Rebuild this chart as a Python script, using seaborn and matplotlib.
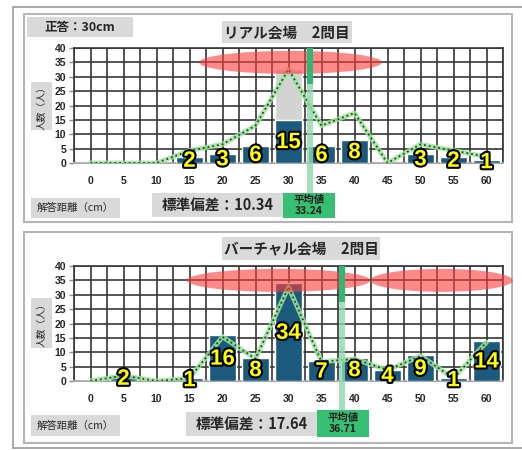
import numpy as np
import matplotlib.pyplot as plt
import matplotlib.patheffects as pe
from matplotlib.patches import Rectangle, Ellipse
import seaborn as sns

sns.set_theme(style="white")
plt.rcParams['font.family'] = ['Noto Sans CJK JP', 'DejaVu Sans']

# data
distance = ['0', '5', '10', '15', '20', '25', '30', '35', '40', '45', '50', '55', '60']
real_counts = [0, 0, 0, 2, 3, 6, 15, 6, 8, 0, 3, 2, 1]
real_pct = [0, 0, 0, 4.3, 6.5, 13.0, 32.6, 13.0, 17.4, 0, 6.5, 4.3, 2.2]
virtual_counts = [0, 2, 0, 1, 16, 8, 34, 7, 8, 4, 9, 1, 14]
virtual_pct = [0, 1.9, 0, 1.0, 15.4, 7.7, 32.7, 6.7, 7.7, 3.8, 8.7, 1.0, 13.5]
titles = ['リアル会場　2問目', 'バーチャル会場　2問目']
std_values = ['10.34', '17.64']
mean_values = ['33.24', '36.71']
mean_marker_cm = [33.2, 38.1]      # where the mean marker sits in the picture
highlight_30 = [32.6, 32.7]        # grey column behind the 30cm bar
# (centre cm, width cm) of the red ellipses
ellipses = [[(30.3, 27.7)], [(28.5, 27.8), (53.2, 21.6)]]

W, H = 522, 450
fig = plt.figure(figsize=(W / 100, H / 100), dpi=100)
fig.patch.set_facecolor('white')
num_font = ['Liberation Sans', 'DejaVu Sans']


def fbox(x0, y0, x1, y1, fc, ec='none', lw=0, z=2):
    fig.add_artist(Rectangle((x0 / W, 1 - y1 / H), (x1 - x0) / W, (y1 - y0) / H,
                             transform=fig.transFigure, facecolor=fc, edgecolor=ec,
                             linewidth=lw, zorder=z))


def ftext(x, y, s, **kw):
    fig.text(x / W, 1 - y / H, s, ha='center', va='center', zorder=3, **kw)


# frames
fbox(13, 7, 530, 448, 'white', '#9a9a9a', 1.2, z=-3)
fbox(24, 14, 512, 222, 'white', '#b5b5b5', 1.5, z=-2)
fbox(24, 232, 512, 443, 'white', '#b5b5b5', 1.5, z=-2)

panels = [
    dict(counts=real_counts, pct=real_pct, top=48, title_box=(222, 21, 352, 43),
         xlab_box=(31, 198, 120, 218), std_box=(152, 193, 283, 217),
         mean_box=(283, 193, 335, 218), ylab_box=(31, 82, 52, 130)),
    dict(counts=virtual_counts, pct=virtual_pct, top=266, title_box=(222, 237, 380, 260),
         xlab_box=(31, 415, 120, 436), std_box=(186, 412, 317, 436),
         mean_box=(317, 410, 369, 437), ylab_box=(31, 298, 52, 348)),
]

gray = '#d9d9d9'
grid_c = '#363636'
for k, p in enumerate(panels):
    ax = fig.add_axes([74 / W, 1 - (p['top'] + 115) / H, 429 / W, 115 / H])
    ax.set_facecolor('white')
    idx = np.arange(len(distance))

    # grid: every half category across, every 5 people up
    ax.vlines(np.arange(-0.5, 12.6, 0.5), 0, 40, color=grid_c, linewidth=1.2, zorder=1)
    ax.hlines(np.arange(5, 41, 5), -0.5, 12.5, color=grid_c, linewidth=1.2, zorder=1)

    hl = [0] * len(distance)
    hl[6] = highlight_30[k]
    sns.barplot(x=distance, y=hl, order=distance, color='#d3d3d3', width=0.84,
                saturation=1, ax=ax, zorder=2)
    sns.barplot(x=distance, y=p['counts'], order=distance, color='#1b5a7c', width=0.84,
                saturation=1, ax=ax, zorder=3)

    sns.lineplot(x=idx, y=p['pct'], color='#9ee39e', linewidth=3.5, alpha=0.85, ax=ax, zorder=4)
    sns.lineplot(x=idx, y=p['pct'], color='#1e4d1e', linewidth=1.3, linestyle=':', ax=ax, zorder=5)

    for c, w in ellipses[k]:
        ax.add_patch(Ellipse((c / 5, 35), w / 5, 8, facecolor='#ff3b3b', alpha=0.6,
                             edgecolor='none', zorder=6, clip_on=False))

    m = mean_marker_cm[k] / 5
    ax.plot([m, m], [-10.3, 27.5], color='#8fd9ad', linewidth=4.3, alpha=0.8,
            solid_capstyle='butt', clip_on=False, zorder=6)
    ax.plot([m, m], [27.5, 40], color='#2eb872', linewidth=4.3,
            solid_capstyle='butt', zorder=7)

    for i, v in enumerate(p['counts']):
        if v > 0:
            ax.text(i, v / 2 - 0.4, str(v), ha='center', va='center', fontsize=16,
                    fontweight='bold', color='#ffff00', zorder=8, clip_on=False,
                    family=num_font,
                    path_effects=[pe.withStroke(linewidth=3, foreground='black')])

    ax.set_xlim(-0.5, 12.5)
    ax.set_ylim(0, 40)
    ax.set_xticks(idx)
    ax.set_xticklabels(distance, fontsize=7.5, fontweight='bold', family=num_font)
    ax.set_yticks(range(0, 41, 5))
    ax.set_yticklabels([str(v) for v in range(0, 41, 5)], fontsize=7.5, fontweight='bold',
                       family=num_font)
    ax.tick_params(axis='x', length=0, pad=9)
    ax.tick_params(axis='y', length=3.5, width=1, color='#8a8a8a', pad=2, left=True)
    ax.grid(False)
    ax.set_xlabel('')
    ax.set_ylabel('')
    for s in ['top', 'left', 'right']:
        ax.spines[s].set_color(grid_c)
        ax.spines[s].set_linewidth(1.2)
    ax.spines['bottom'].set_color('#a8a8a8')
    ax.spines['bottom'].set_linewidth(1.5)

    # boxes and labels
    x0, y0, x1, y1 = p['title_box']
    fbox(x0, y0, x1, y1, gray)
    ftext((x0 + x1) / 2, (y0 + y1) / 2, titles[k], fontsize=10.5, fontweight='bold')

    x0, y0, x1, y1 = p['xlab_box']
    fbox(x0, y0, x1, y1, gray)
    ftext((x0 + x1) / 2, (y0 + y1) / 2, '解答距離（cm）', fontsize=7.5)

    x0, y0, x1, y1 = p['std_box']
    fbox(x0, y0, x1, y1, gray)
    ftext((x0 + x1) / 2, (y0 + y1) / 2, '標準偏差：' + std_values[k], fontsize=10.5,
          fontweight='bold')

    x0, y0, x1, y1 = p['mean_box']
    fbox(x0, y0, x1, y1, '#35c074')
    ftext((x0 + x1) / 2, (y0 + y1) / 2, '平均値\n' + mean_values[k], fontsize=7.5,
          linespacing=1.1, color='#1a1a1a', fontweight='bold')

    x0, y0, x1, y1 = p['ylab_box']
    fbox(x0, y0, x1, y1, gray)
    ftext((x0 + x1) / 2, (y0 + y1) / 2, '人数（人）', fontsize=7, rotation=90)

fbox(27, 17, 133, 37, gray)
ftext(80, 27, '正答：30cm', fontsize=9, fontweight='bold')

fig.savefig('out.png', dpi=100)
